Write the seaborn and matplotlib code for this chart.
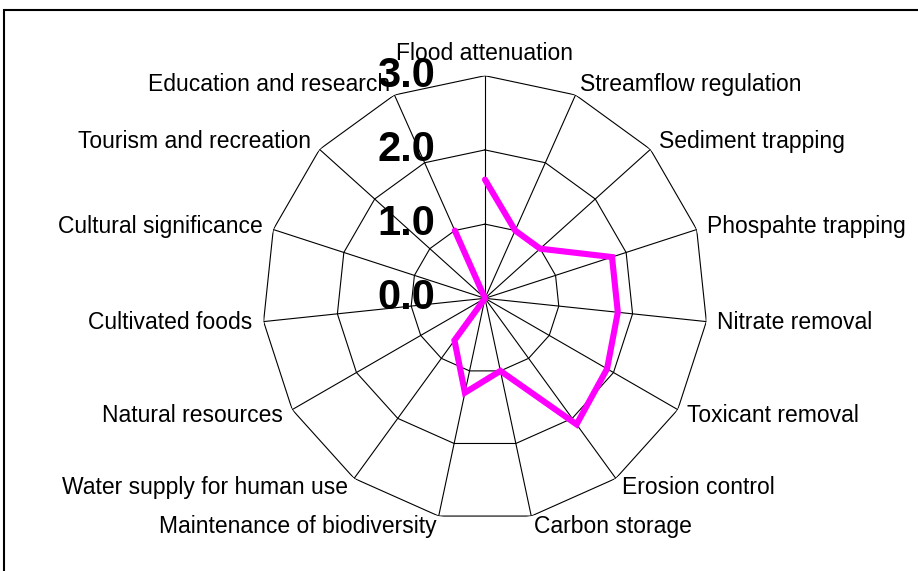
import numpy as np
import pandas as pd
import matplotlib
matplotlib.use("Agg")
import matplotlib.pyplot as plt
import matplotlib.transforms as mtransforms
from matplotlib.patches import Rectangle
import seaborn as sns

# --- Data ---
services = [
    "Flood attenuation", "Streamflow regulation", "Sediment trapping",
    "Phospahte trapping", "Nitrate removal", "Toxicant removal",
    "Erosion control", "Carbon storage", "Maintenance of biodiversity",
    "Water supply for human use", "Natural resources", "Cultivated foods",
    "Cultural significance", "Tourism and recreation", "Education and research",
]
scores = [1.6, 1.0, 1.0, 1.8, 1.8, 1.9, 2.1, 1.0, 1.3, 0.7, 0.0, 0.0, 0.0, 0.0, 1.0]
ring_levels = [1.0, 2.0, 3.0]
ring_labels = ["0.0", "1.0", "2.0", "3.0"]
r_max = 3.0

sns.set_style("white")
plt.rcParams["font.family"] = ["Liberation Sans", "DejaVu Sans"]

n = len(services)
theta = np.linspace(0, 2 * np.pi, n, endpoint=False)
theta_closed = np.append(theta, theta[0])

fig = plt.figure(figsize=(9.18, 5.71), dpi=100)
ax = fig.add_axes([0.2858, 0.0877, 0.485, 0.7797], projection="polar")
ax.set_theta_zero_location("N")
ax.set_theta_direction(-1)
ax.set_ylim(0, r_max)
ax.grid(False)
ax.spines["polar"].set_visible(False)
ax.set_xticks([])
ax.set_yticks([])
ax.set_facecolor("white")

# polygon grid (straight segments) + spokes
for lvl in ring_levels:
    ax.plot(theta_closed, [lvl] * (n + 1), color="black", lw=0.8, zorder=1)
for t in theta:
    ax.plot([t, t], [0, r_max], color="black", lw=0.8, zorder=1)

# the score polygon
df = pd.DataFrame({"theta": theta_closed, "score": scores + [scores[0]]})
sns.lineplot(data=df, x="theta", y="score", sort=False, ax=ax,
             color="#FF00FF", lw=4.4, zorder=3)
for line in ax.lines[-1:]:
    line.set_solid_joinstyle("miter")
ax.set_xlabel("")
ax.set_ylabel("")

# category labels around the outside
for t, name in zip(theta, services):
    s, c = np.sin(t), np.cos(t)
    if abs(s) < 0.1:
        ha, va = "center", "bottom"
    else:
        ha, va = ("left" if s > 0 else "right"), "center"
    k = 8
    ax.annotate(name, xy=(t, r_max), xytext=(s * k, c * k),
                textcoords="offset points", ha=ha, va=va,
                fontsize=16.5, color="black", annotation_clip=False)

# radial scale labels, left of the vertical spoke
shift = mtransforms.ScaledTranslation(-50 / 100, 0, fig.dpi_scale_trans)
for lvl, lab in zip([0.0] + ring_levels, ring_labels):
    ax.text(0, lvl, lab, transform=ax.transData + shift, ha="right",
            va="center", fontsize=30, fontweight="bold", color="black",
            zorder=4)

# outer frame (runs off the right and bottom edges)
fig.patches.append(Rectangle((4 / 918, -0.05), 1.2, 0.9825 + 0.05,
                             transform=fig.transFigure, fill=False,
                             edgecolor="black", lw=1.5))

fig.savefig("out.png", dpi=100)
